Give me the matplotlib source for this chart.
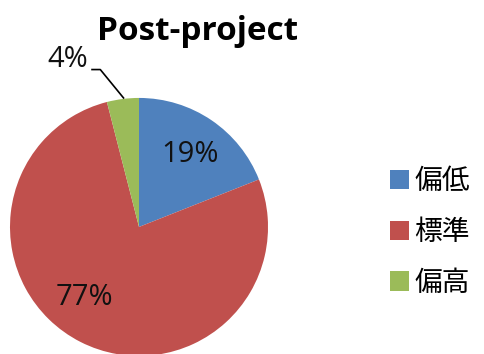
import matplotlib.pyplot as plt
from matplotlib.patches import Patch

plt.rcParams['font.family'] = ['Noto Sans CJK JP', 'DejaVu Sans']

labels = ["偏低", "標準", "偏高"]
shares = [19, 77, 4]
colors = ["#4F81BD", "#C0504D", "#9BBB59"]

fig = plt.figure(figsize=(4.85, 3.54), dpi=100)
ax = fig.add_axes([0.0206, -0.0056, 0.532, 0.729])

wedges, _ = ax.pie(shares, colors=colors, startangle=90, counterclock=False,
                   radius=1.0)
ax.set_xlim(-1, 1)
ax.set_ylim(-1, 1)
ax.set_aspect("equal")

# percentage labels
lab_font = dict(family=["Open Sans", "DejaVu Sans"], fontsize=21, color="#111111")
ax.text(0.395, 0.56, f"{shares[0]}%", ha="center", va="center", **lab_font)
ax.text(-0.42, -0.55, f"{shares[1]}%", ha="center", va="center", **lab_font)
ax.text(-0.55, 1.30, f"{shares[2]}%", ha="center", va="center", **lab_font)
# leader line for the small slice
ax.plot([-0.364, -0.30, -0.12], [1.22, 1.22, 1.0], color="black", lw=1.2,
        clip_on=False)

fig.text(0.408, 0.91, "Post-project", ha="center", va="center",
         family=["Open Sans", "DejaVu Sans"], fontsize=24, fontweight="bold")

handles = [Patch(facecolor=c, edgecolor="none") for c in colors]
fig.legend(handles, labels, loc="center left", bbox_to_anchor=(0.752, 0.345),
           frameon=False, fontsize=20, handlelength=0.68, handleheight=0.68,
           handletextpad=0.2, labelspacing=0.75)

fig.savefig("out.png", dpi=100)
